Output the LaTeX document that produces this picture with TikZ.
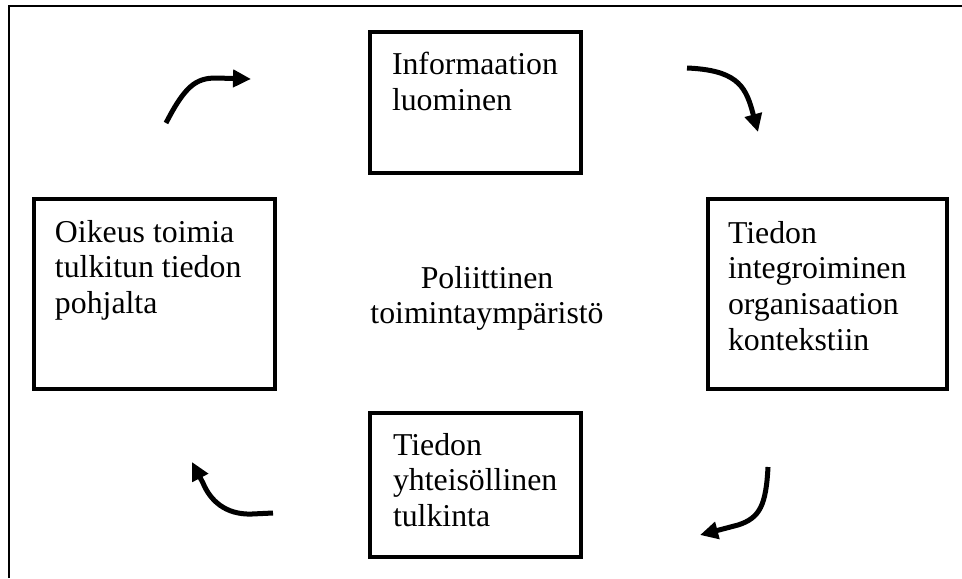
\documentclass[tikz,border=0pt]{standalone}
\usepackage{fontspec}
\setmainfont{Liberation Serif}
\usetikzlibrary{arrows.meta,positioning}

\begin{document}
\begin{tikzpicture}
  [x=0.02cm,y=-0.02cm,
   box/.style={draw,rectangle,line width=0.08cm,anchor=north west,inner sep=0pt,outer sep=0pt},
   txt/.style={anchor=north west,inner sep=0pt,outer sep=0pt,align=left,
     font=\fontsize{18.1pt}{20.4pt}\selectfont},
   flow/.style={line width=0.1cm,-{Triangle[length=0.36cm,width=0.34cm]}}]
  \useasboundingbox (0,0) rectangle (962,578);
  % outer frame
  \draw[line width=0.04cm] (9,578) -- (9,6) -- (962,6);
  % the four phases
  \node[box,minimum width=4.22cm,minimum height=2.82cm] (info) at (370,32) {};
  \node[box,minimum width=4.78cm,minimum height=3.80cm] (integr) at (708,199) {};
  \node[box,minimum width=4.22cm,minimum height=2.88cm] (tulk) at (370,413) {};
  \node[box,minimum width=4.82cm,minimum height=3.80cm] (oikeus) at (34,199) {};
  \node[txt,below right=0.4cm and 0.44cm of info.north west] (infotxt) {Informaation\\luominen};
  \node[txt,below right=0.44cm and 0.4cm of integr.north west] (integrtxt) {Tiedon\\integroiminen\\organisaation\\kontekstiin};
  \node[txt,below right=0.4cm and 0.46cm of tulk.north west] (tulktxt) {Tiedon\\yhteisöllinen\\tulkinta};
  \node[txt,below right=0.42cm and 0.42cm of oikeus.north west] (oikeustxt) {Oikeus toimia\\tulkitun tiedon\\pohjalta};
  \node[txt,align=center,anchor=north] (ymp) at (487,266) {Poliittinen\\toimintaympäristö};
  % arrows between the phases
  \coordinate (a1s) at (166,123); \coordinate (a1e) at (251,79);
  \coordinate (a2s) at (687,68);  \coordinate (a2e) at (758,132);
  \coordinate (a3s) at (768,467); \coordinate (a3e) at (700,535);
  \coordinate (a4s) at (273,513); \coordinate (a4e) at (192,462);
  \draw[flow] (a1s) .. controls (185,86) and (196,78) .. (216,78) -- (a1e);
  \draw[flow] (a2s) .. controls (735,70) and (745,85) .. (752,110) -- (a2e);
  \draw[flow] (a3s) .. controls (766,505) and (760,518) .. (738,525) -- (a3e);
  \draw[flow] (a4s) -- (252,514) .. controls (225,515) and (210,500) .. (203,483) -- (a4e);
\end{tikzpicture}
\end{document}
